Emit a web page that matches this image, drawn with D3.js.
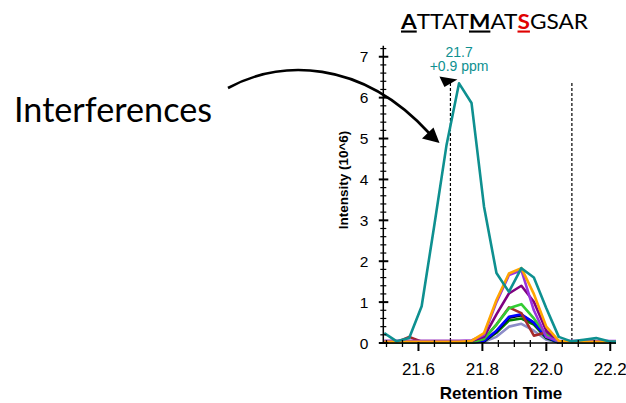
<!DOCTYPE html>
<html>
<head>
<meta charset="utf-8">
<script src="https://cdn.jsdelivr.net/npm/d3@7"></script>
<style>
  body { margin: 0; background: #fff; }
  svg { display: block; }
</style>
</head>
<body>
<svg width="626" height="403"></svg>
<script>
// retention times of the scans (min)
const times = [21.493, 21.532, 21.571, 21.610, 21.649, 21.688, 21.727, 21.766, 21.805, 21.844,
               21.883, 21.922, 21.961, 22.000, 22.039, 22.078, 22.117, 22.156, 22.195, 22.234];

const seriesNames = ["lightpurple", "darkgreen", "black", "blue", "brown", "green", "darkpurple", "violet", "orange", "teal"];
const seriesColors = ["#8c8cc8", "#008000", "#000000", "#0000ff", "#a52a2a", "#33cc33", "#800080", "#9933dd", "#ffa500", "#0e9090"];

const lightpurple = [0.02, 0.02, 0.02, 0.02, 0.02, 0.02, 0.02, 0.02, 0.03, 0.15, 0.40, 0.47, 0.30, 0.08, 0.01, 0.01, 0.01, 0.01, 0.01, 0.01];
const darkgreen   = [0.02, 0.02, 0.02, 0.02, 0.02, 0.02, 0.02, 0.02, 0.04, 0.25, 0.55, 0.60, 0.45, 0.12, 0.01, 0.01, 0.01, 0.01, 0.01, 0.01];
const black       = [0.02, 0.02, 0.02, 0.02, 0.02, 0.02, 0.02, 0.02, 0.04, 0.28, 0.62, 0.68, 0.50, 0.14, 0.01, 0.01, 0.01, 0.01, 0.01, 0.01];
const blue        = [0.02, 0.02, 0.02, 0.02, 0.02, 0.02, 0.02, 0.02, 0.05, 0.30, 0.64, 0.70, 0.50, 0.15, 0.01, 0.01, 0.01, 0.01, 0.01, 0.01];
const brown       = [0.02, 0.02, 0.15, 0.03, 0.02, 0.02, 0.02, 0.02, 0.10, 0.45, 0.87, 0.73, 0.18, 0.26, 0.02, 0.02, 0.02, 0.02, 0.02, 0.02];
const green       = [0.02, 0.02, 0.02, 0.02, 0.02, 0.02, 0.02, 0.02, 0.10, 0.45, 0.85, 0.95, 0.60, 0.20, 0.02, 0.02, 0.02, 0.02, 0.02, 0.02];
const darkpurple  = [0.05, 0.05, 0.05, 0.05, 0.05, 0.05, 0.05, 0.05, 0.15, 0.70, 1.21, 1.40, 1.01, 0.30, 0.03, 0.03, 0.03, 0.03, 0.03, 0.03];
const violet      = [0.05, 0.05, 0.05, 0.05, 0.05, 0.05, 0.05, 0.06, 0.20, 1.00, 1.66, 1.78, 0.80, 0.15, 0.05, 0.05, 0.05, 0.05, 0.05, 0.05];
const orange      = [0.03, 0.03, 0.03, 0.03, 0.03, 0.03, 0.03, 0.05, 0.24, 1.05, 1.70, 1.83, 1.20, 0.40, 0.05, 0.03, 0.03, 0.03, 0.03, 0.03];
const teal        = [0.24, 0.04, 0.12, 0.90, 2.85, 4.85, 6.35, 5.87, 3.34, 1.71, 1.25, 1.83, 1.60, 0.85, 0.15, 0.04, 0.08, 0.12, 0.04, 0.03];

const seriesValues = [lightpurple, darkgreen, black, blue, brown, green, darkpurple, violet, orange, teal];

const xTicks = [21.6, 21.8, 22.0, 22.2];
const yTicks = [0, 1, 2, 3, 4, 5, 6, 7];
const boundaries = [21.70, 22.08];
const apexTime = 21.727;
const apexLabel = ["21.7", "+0.9 ppm"];

const svg = d3.select("svg");
const font = "Liberation Sans, Arial, sans-serif";

const x = d3.scaleLinear().domain([21.49, 22.218]).range([383.3, 616]);
const y = d3.scaleLinear().domain([0, 7.27]).range([343, 45.7]);

// clip for the traces
svg.append("defs").append("clipPath").attr("id", "plot")
  .append("rect").attr("x", x.range()[0]).attr("y", 30)
  .attr("width", x.range()[1] - x.range()[0]).attr("height", 320);

// boundary lines
svg.selectAll(".bound").data(boundaries).enter().append("line")
  .attr("x1", d => x(d)).attr("x2", d => x(d))
  .attr("y1", 83).attr("y2", y(0))
  .attr("stroke", "#000").attr("stroke-width", 1.2)
  .attr("stroke-dasharray", "3,2");

// traces
const line = d3.line().x((d, i) => x(times[i])).y(d => y(d));
svg.append("g").attr("clip-path", "url(#plot)")
  .selectAll("path").data(seriesValues).enter().append("path")
  .attr("d", d => line(d))
  .attr("fill", "none")
  .attr("stroke", (d, i) => seriesColors[i])
  .attr("stroke-width", 2.6)
  .attr("stroke-linejoin", "round");

// x axis
const xAxis = svg.append("g").attr("transform", `translate(0,${y(0)})`);
xAxis.append("line").attr("x1", x.range()[0]).attr("x2", x.range()[1])
  .attr("stroke", "#000").attr("stroke-width", 1.5);
const xMinor = d3.range(21.5, 22.22, 0.05).filter(v => !xTicks.some(t => Math.abs(t - v) < 1e-6));
xAxis.selectAll(".xm").data(xMinor).enter().append("line")
  .attr("x1", d => x(d)).attr("x2", d => x(d)).attr("y1", -3).attr("y2", 4)
  .attr("stroke", "#000").attr("stroke-width", 1.3);
xAxis.selectAll(".xM").data(xTicks).enter().append("line")
  .attr("x1", d => x(d)).attr("x2", d => x(d)).attr("y1", -1).attr("y2", 8)
  .attr("stroke", "#000").attr("stroke-width", 2);
xAxis.selectAll("text").data(xTicks).enter().append("text")
  .attr("x", d => x(d)).attr("y", 31.5)
  .attr("text-anchor", "middle")
  .attr("font-family", font).attr("font-size", 17)
  .text(d => d.toFixed(1));

// y axis
const yAxis = svg.append("g").attr("transform", `translate(${x.range()[0]},0)`);
yAxis.append("line").attr("y1", y(0)).attr("y2", y.range()[1])
  .attr("stroke", "#000").attr("stroke-width", 1.5);
const yMinor = d3.range(0.2, 7.21, 0.2).filter(v => Math.abs(v - Math.round(v)) > 1e-6);
yAxis.selectAll(".ym").data(yMinor).enter().append("line")
  .attr("x1", -3).attr("x2", 3).attr("y1", d => y(d)).attr("y2", d => y(d))
  .attr("stroke", "#000").attr("stroke-width", 1.2);
yAxis.selectAll(".yM").data(yTicks).enter().append("line")
  .attr("x1", -4.5).attr("x2", 5).attr("y1", d => y(d)).attr("y2", d => y(d))
  .attr("stroke", "#000").attr("stroke-width", 2);
yAxis.selectAll("text").data(yTicks).enter().append("text")
  .attr("x", -15).attr("y", d => y(d) + 5.5)
  .attr("text-anchor", "end")
  .attr("font-family", font).attr("font-size", 15.5)
  .text(d => d);

// axis titles
svg.append("text")
  .attr("transform", "translate(348,180) rotate(-90)")
  .attr("text-anchor", "middle")
  .attr("font-family", font).attr("font-size", 13.5).attr("font-weight", "bold")
  .text("Intensity (10^6)");
svg.append("text")
  .attr("x", 501).attr("y", 398.5)
  .attr("text-anchor", "middle")
  .attr("font-family", font).attr("font-size", 17).attr("font-weight", "bold")
  .text("Retention Time");

// apex label and marker
svg.selectAll(".apex").data(apexLabel).enter().append("text")
  .attr("x", x(apexTime)).attr("y", (d, i) => 56.7 + i * 14.5)
  .attr("text-anchor", "middle")
  .attr("font-family", font).attr("font-size", 14)
  .attr("fill", seriesColors[9])
  .text(d => d);
const mx = x(boundaries[0]);
svg.append("path")
  .attr("d", `M${mx - 11},76.5 L${mx + 7},79.5 L${mx - 6},87 Z`)
  .attr("fill", "#000");

// title
const title = svg.append("text")
  .attr("x", 401).attr("y", 28.5)
  .attr("font-family", "Lato, 'Open Sans', sans-serif").attr("font-size", 21)
  .attr("textLength", 187).attr("lengthAdjust", "spacingAndGlyphs");
const parts = [
  { t: "A", bold: true, u: true, c: "#000" },
  { t: "TTAT", c: "#000" },
  { t: "M", bold: true, u: true, c: "#000" },
  { t: "AT", c: "#000" },
  { t: "S", bold: true, u: true, c: "#e00000" },
  { t: "GSAR", c: "#000" }
];
parts.forEach(p => {
  title.append("tspan")
    .attr("font-weight", p.bold ? "bold" : "normal")
    .attr("text-decoration", p.u ? "underline" : null)
    .attr("fill", p.c)
    .text(p.t);
});

// annotation
svg.append("text")
  .attr("x", 14).attr("y", 121.5)
  .attr("font-family", "Lato, 'Open Sans', sans-serif").attr("font-size", 34)
  .attr("textLength", 198).attr("lengthAdjust", "spacingAndGlyphs")
  .text("Interferences");
svg.append("path")
  .attr("d", "M228,88 C280,60 360,58 429,133")
  .attr("fill", "none").attr("stroke", "#000").attr("stroke-width", 2.6);
svg.append("path")
  .attr("d", "M439.5,143 L422,138.5 L433.5,127.5 Z")
  .attr("fill", "#000");
</script>
</body>
</html>
